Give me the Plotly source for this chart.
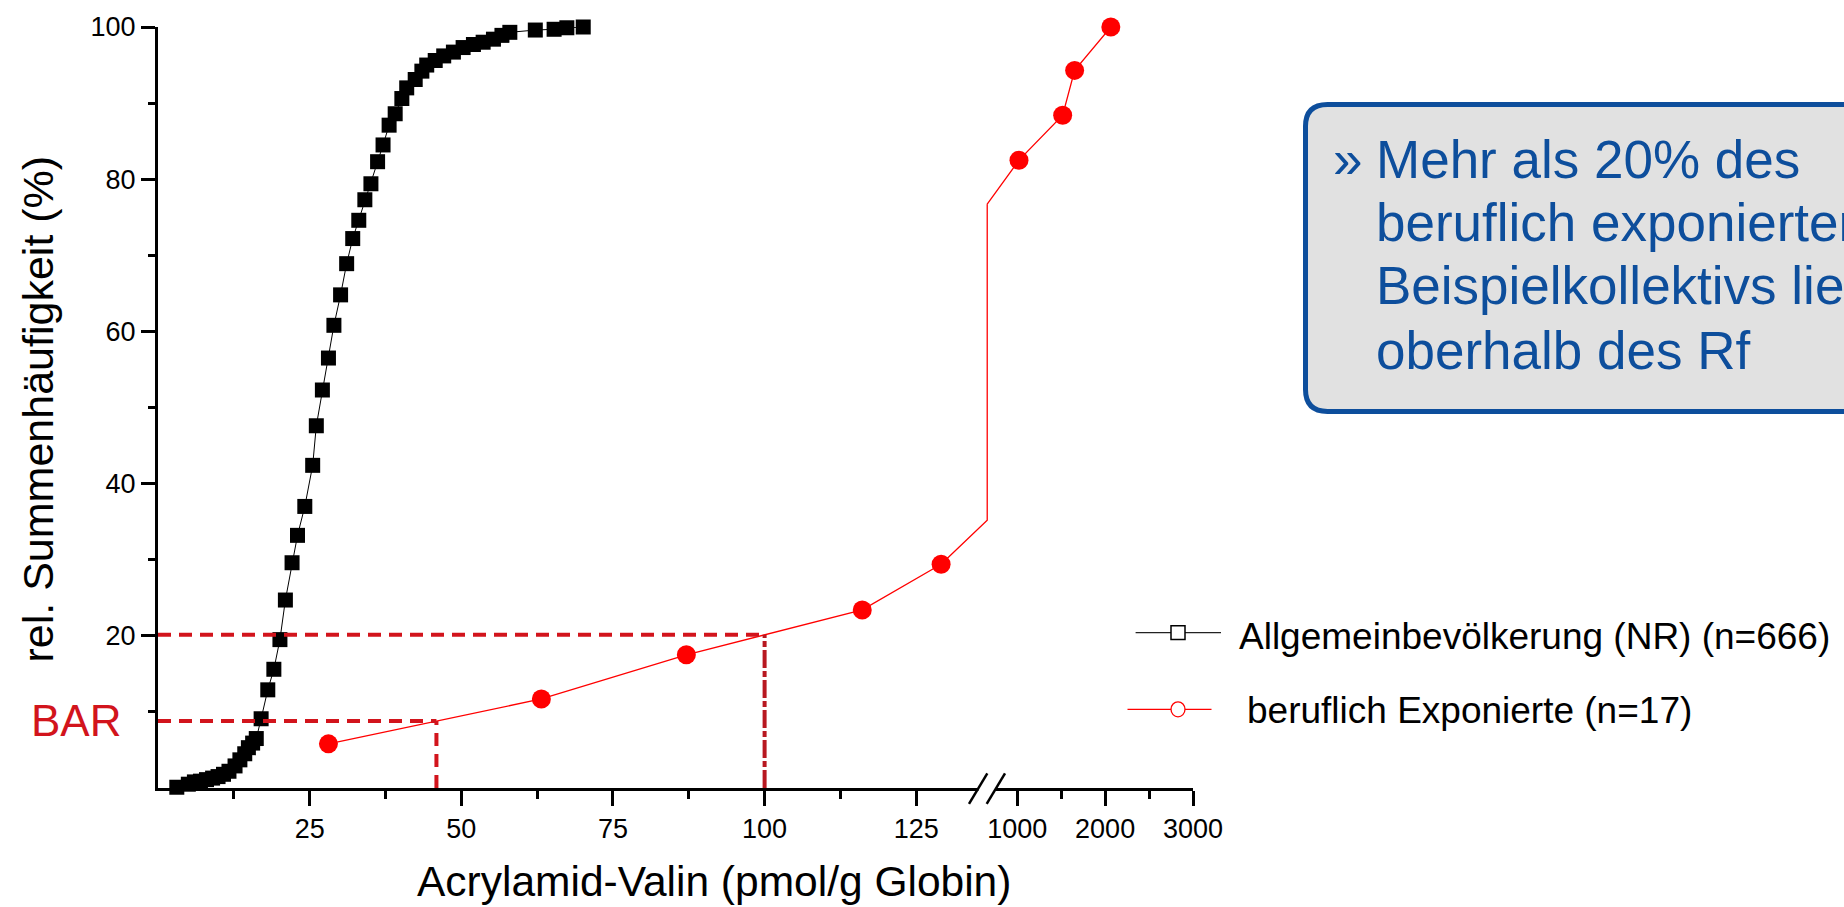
import plotly.graph_objects as go
import numpy as np

# ---------------- data ----------------
# Allgemeinbevölkerung (NR) (n=666): cumulative frequency points
gen_x = [3.1, 5.0, 6.0, 7.0, 8.0, 9.0, 9.9, 10.8, 11.7, 12.7, 13.5, 14.3, 14.9, 15.6, 16.2,
         17.0, 18.1, 19.1, 20.1, 21.0, 22.1, 23.0, 24.2, 25.5, 26.1, 27.1, 28.1, 29.0, 30.1,
         31.1, 32.1, 33.1, 34.1, 35.1, 36.2, 37.1, 38.1, 39.1, 40.2, 41.0, 42.4, 43.5, 44.3,
         45.7, 47.1, 48.7, 50.3, 52.0, 53.6, 55.3, 56.7, 58.0, 62.2, 65.3, 67.4, 70.1]
gen_y = [0.1, 0.5, 0.8, 0.9, 1.1, 1.3, 1.5, 1.8, 2.2, 2.9, 3.7, 4.5, 5.3, 5.9, 6.5,
         9.1, 12.9, 15.6, 19.5, 24.7, 29.6, 33.2, 37.0, 42.4, 47.6, 52.3, 56.5, 60.8, 64.8,
         68.9, 72.2, 74.6, 77.3, 79.4, 82.3, 84.5, 87.1, 88.6, 90.6, 92.0, 93.1, 94.2, 95.0,
         95.6, 96.2, 96.7, 97.3, 97.7, 98.0, 98.4, 98.9, 99.3, 99.6, 99.7, 99.9, 100.0]

# beruflich Exponierte (n=17): points left of the axis break (linear 0..~138)
exp_x_left = [28.1, 63.2, 87.1, 116.1, 129.1]
exp_y_left = [5.8, 11.7, 17.5, 23.4, 29.4]
# points right of the axis break (1000..3000 segment)
exp_x_right = [1020, 1517, 1653, 2065]
exp_y_right = [82.5, 88.4, 94.3, 100.0]
# connector drawn across the axis break
break_x_left = 136.7      # in left-segment units
break_x_right = 656       # same position, in right-segment units
break_y_low = 35.2
break_y_high = 76.7

# reference values
BAR_X = 45.9
RF_X = 100
BAR_Y = float(np.interp(BAR_X, exp_x_left, exp_y_left))
RF_Y = float(np.interp(RF_X, exp_x_left, exp_y_left))

x_left_ticks = [25, 50, 75, 100, 125]
x_left_minor = [12.5, 37.5, 62.5, 87.5, 112.5]
x_right_ticks = [1000, 2000, 3000]
x_right_minor = [1500, 2500]
y_ticks = [20, 40, 60, 80, 100]
y_minor = [10, 30, 50, 70, 90]

legend_labels = ["Allgemeinbevölkerung (NR) (n=666)", "beruflich Exponierte (n=17)"]
box_lines = ["Mehr als 20% des", "beruflich exponierten", "Beispielkollektivs liegen", "oberhalb des Rf"]
x_title = "Acrylamid-Valin (pmol/g Globin)"
y_title = "rel. Summenhäufigkeit (%)"

# ---------------- layout helpers (pixel -> paper) ----------------
W, H = 1844, 907
PX_L, PX_R = 158, 1193
PY_T, PY_B = 24, 788
def px(x):
    return (x - PX_L) / (PX_R - PX_L)
def py(y):
    return (PY_B - y) / (PY_B - PY_T)

FONT = "Liberation Sans, Arial, sans-serif"
RED = "#ff0000"
DRED = "#d2141c"
BLUE = "#0d4e9c"

left_end_px = 995
right_start_px = 978
left_scale = 6.066            # px per unit
right_scale = 176.0 / 2000.0  # px per unit
left_range = [0, (left_end_px - PX_L) / left_scale]
right_range = [1000 - (1017.3 - right_start_px) / right_scale, 3000]

fig = go.Figure()

fig.add_trace(go.Scatter(
    x=gen_x, y=gen_y, xaxis="x", yaxis="y", mode="lines+markers",
    line=dict(color="black", width=1),
    marker=dict(symbol="square", size=15, color="black"),
    cliponaxis=False, showlegend=False, hoverinfo="x+y"))

fig.add_trace(go.Scatter(
    x=[exp_x_left[-1], break_x_left, break_x_left],
    y=[exp_y_left[-1], break_y_low, break_y_high],
    xaxis="x", yaxis="y", mode="lines",
    line=dict(color=RED, width=1.3), showlegend=False, hoverinfo="skip"))

fig.add_trace(go.Scatter(
    x=[break_x_right] + exp_x_right, y=[break_y_high] + exp_y_right,
    xaxis="x2", yaxis="y", mode="lines",
    line=dict(color=RED, width=1.3), showlegend=False, hoverinfo="skip"))

fig.add_trace(go.Scatter(
    x=exp_x_left, y=exp_y_left, xaxis="x", yaxis="y", mode="lines+markers",
    line=dict(color=RED, width=1.3),
    marker=dict(symbol="circle", size=19, color=RED),
    cliponaxis=False, showlegend=False))

fig.add_trace(go.Scatter(
    x=exp_x_right, y=exp_y_right, xaxis="x2", yaxis="y", mode="markers",
    marker=dict(symbol="circle", size=19, color=RED),
    cliponaxis=False, showlegend=False))

axis_common = dict(
    showline=True, linecolor="black", linewidth=3, mirror=False,
    ticks="outside", ticklen=15, tickwidth=2.5, tickcolor="black",
    showgrid=False, zeroline=False,
    tickfont=dict(family=FONT, size=27, color="black"),
)

fig.update_layout(
    width=W, height=H,
    margin=dict(l=PX_L, r=W - PX_R, t=PY_T, b=H - PY_B, pad=0),
    paper_bgcolor="white", plot_bgcolor="rgba(0,0,0,0)",
    showlegend=False,
    xaxis=dict(domain=[0, px(left_end_px)], range=left_range, anchor="y",
               tickvals=x_left_ticks, ticktext=[str(v) for v in x_left_ticks],
               minor=dict(tickvals=x_left_minor, ticks="outside", ticklen=8,
                          tickwidth=2.5, tickcolor="black", showgrid=False),
               **axis_common),
    xaxis2=dict(domain=[px(right_start_px), 1], range=right_range, anchor="y",
                tickvals=x_right_ticks, ticktext=[str(v) for v in x_right_ticks],
                minor=dict(tickvals=x_right_minor, ticks="outside", ticklen=8,
                           tickwidth=2.5, tickcolor="black", showgrid=False),
                **axis_common),
    yaxis=dict(domain=[0, 1], range=[0, 100], anchor="x",
               tickvals=y_ticks, ticktext=[str(v) for v in y_ticks],
               minor=dict(tickvals=y_minor, ticks="outside", ticklen=7,
                          tickwidth=2.5, tickcolor="black", showgrid=False),
               **{**axis_common, "ticklen": 14}),
)

shapes = []
dash = "13px,8px"
# reference lines (BAR and Rf)
shapes += [
    dict(type="line", xref="x", yref="y", x0=0, x1=RF_X, y0=RF_Y, y1=RF_Y,
         line=dict(color=DRED, width=4, dash=dash)),
    dict(type="line", xref="x", yref="y", x0=RF_X, x1=RF_X, y0=0, y1=RF_Y,
         line=dict(color="#b81820", width=4, dash="18px,3px,6px,3px")),
    dict(type="line", xref="x", yref="y", x0=0, x1=BAR_X, y0=BAR_Y, y1=BAR_Y,
         line=dict(color=DRED, width=4, dash=dash)),
    dict(type="line", xref="x", yref="y", x0=BAR_X, x1=BAR_X, y0=0, y1=BAR_Y,
         line=dict(color=DRED, width=4, dash=dash)),
]
# axis break: white gap and two slashes
shapes += [
    dict(type="rect", xref="paper", yref="paper", x0=px(978.5), x1=px(995.5),
         y0=py(796), y1=py(781), fillcolor="white", line=dict(width=0), layer="above"),
    dict(type="line", xref="paper", yref="paper", x0=px(969), y0=py(804), x1=px(987.3), y1=py(773.3),
         line=dict(color="black", width=2.5), layer="above"),
    dict(type="line", xref="paper", yref="paper", x0=px(986.7), y0=py(804), x1=px(1005), y1=py(773.3),
         line=dict(color="black", width=2.5), layer="above"),
]
# rounded info box
bx0, bx1, by0, by1, r = 1305.5, 1880, 101.7, 410, 22
def P(a, b):
    return f"{px(a):.5f},{py(b):.5f}"
path = (f"M {P(bx0 + r, by0)} L {P(bx1 - r, by0)} Q {P(bx1, by0)} {P(bx1, by0 + r)} "
        f"L {P(bx1, by1 - r)} Q {P(bx1, by1)} {P(bx1 - r, by1)} L {P(bx0 + r, by1)} "
        f"Q {P(bx0, by1)} {P(bx0, by1 - r)} L {P(bx0, by0 + r)} Q {P(bx0, by0)} {P(bx0 + r, by0)} Z")
shapes.append(dict(type="path", xref="paper", yref="paper", path=path,
                   fillcolor="#e1e1e1", line=dict(color=BLUE, width=5), layer="above"))
# legend glyphs
shapes += [
    dict(type="line", xref="paper", yref="paper", x0=px(1135.6), x1=px(1221), y0=py(632), y1=py(632),
         line=dict(color="#222222", width=1.3)),
    dict(type="rect", xref="paper", yref="paper", x0=px(1171), x1=px(1185), y0=py(639), y1=py(625),
         fillcolor="white", line=dict(color="black", width=1.5), layer="above"),
    dict(type="line", xref="paper", yref="paper", x0=px(1127.5), x1=px(1211.5), y0=py(709), y1=py(709),
         line=dict(color=RED, width=1.3)),
    dict(type="circle", xref="paper", yref="paper", x0=px(1171), x1=px(1185), y0=py(716.5), y1=py(701.5),
         fillcolor="white", line=dict(color=RED, width=1.3), layer="above"),
]
fig.update_layout(shapes=shapes)

ann = []
ann.append(dict(text=x_title, xref="paper", yref="paper", x=px(714), y=py(882),
                xanchor="center", yanchor="middle", showarrow=False,
                font=dict(family=FONT, size=42.5, color="black")))
ann.append(dict(text=y_title, xref="paper", yref="paper", x=px(38), y=py(408),
                xanchor="center", yanchor="middle", textangle=-90, showarrow=False,
                font=dict(family=FONT, size=43, color="black")))
ann.append(dict(text="BAR", xref="paper", yref="paper", x=px(123), y=py(720),
                xanchor="right", yanchor="middle", showarrow=False,
                font=dict(family=FONT, size=44, color=DRED)))
ann.append(dict(text=legend_labels[0], xref="paper", yref="paper", x=px(1237), y=py(636),
                xanchor="left", yanchor="middle", showarrow=False,
                font=dict(family=FONT, size=37, color="black")))
ann.append(dict(text=legend_labels[1], xref="paper", yref="paper", x=px(1245), y=py(710),
                xanchor="left", yanchor="middle", showarrow=False,
                font=dict(family=FONT, size=37, color="black")))
ann.append(dict(text="»", xref="paper", yref="paper", x=px(1331), y=py(157),
                xanchor="left", yanchor="middle", showarrow=False,
                font=dict(family=FONT, size=53, color=BLUE)))
line_centers = [157, 220, 283.5, 348.5]
for t, yc in zip(box_lines, line_centers):
    ann.append(dict(text=t, xref="paper", yref="paper", x=px(1374), y=py(yc),
                    xanchor="left", yanchor="middle", showarrow=False,
                    font=dict(family=FONT, size=53, color=BLUE)))
fig.update_layout(annotations=ann)

fig.write_html("out.html", config={"displayModeBar": False},
               post_script=["document.body.style.margin='0px';"])
